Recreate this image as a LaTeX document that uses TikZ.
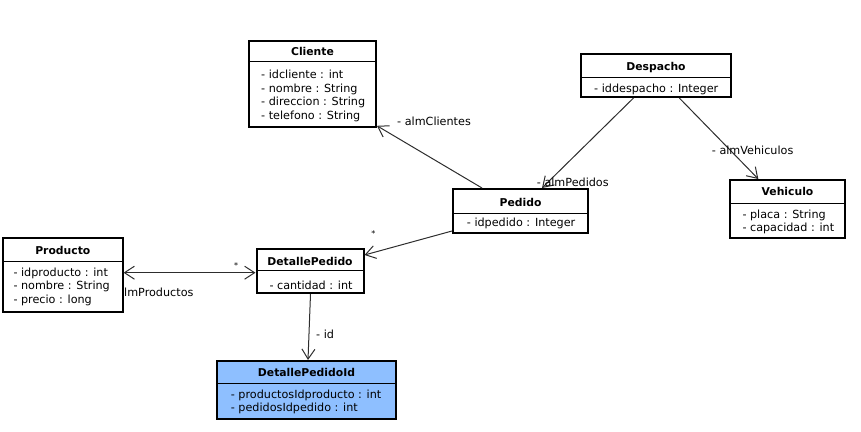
\documentclass[tikz,border=0pt]{standalone}
\usepackage{fontspec}
\setmainfont{DejaVu Sans}
\usetikzlibrary{arrows.meta,calc}
\definecolor{idblue}{RGB}{142,191,255}
\definecolor{edgecol}{RGB}{45,45,45}
\begin{document}
\begin{tikzpicture}[x=1pt,y=-1pt,
  cls/.style={draw=black, line width=2pt, rectangle, inner sep=0pt, fill=white},
  ttl/.style={font=\fontsize{10.8}{13}\selectfont\bfseries, inner sep=0pt, text height=7.9pt, text depth=0pt},
  attr/.style={font=\fontsize{11.2}{13.5}\selectfont, align=left, inner sep=0pt, anchor=west},
  lbl/.style={font=\fontsize{11.2}{13}\selectfont, inner sep=0pt, anchor=west},
  star/.style={font=\fontsize{8}{9}\selectfont, inner sep=0pt},
  divider/.style={draw=black, line width=1pt},
  assoc/.style={draw=edgecol, line width=1pt, -{Straight Barb[length=10pt,width=13pt]}},
  biassoc/.style={draw=edgecol, line width=1pt, {Straight Barb[length=10pt,width=13pt]}-{Straight Barb[length=10pt,width=13pt]}}]

\useasboundingbox (0,0) rectangle (861,431);

% ---------- classes ----------
\node[cls, minimum width=127pt, minimum height=86pt] (cliente) at (312.5,83.8) {};
\draw[divider] (cliente.west |- 0,61.5) -- (cliente.east |- 0,61.5);
\node[ttl] (clienteT) at (312.5,51.7) {Cliente};
\node[attr] (clienteA) at (261,95.9) {- idcliente : int\\- nombre : String\\- direccion : String\\- telefono : String};

\node[cls, minimum width=150pt, minimum height=43pt] (despacho) at (656,75.5) {};
\draw[divider] (despacho.west |- 0,77.3) -- (despacho.east |- 0,77.3);
\node[ttl] (despachoT) at (656,66.7) {Despacho};
\node[attr] (despachoA) at (594,89) {- iddespacho : Integer};

\node[cls, minimum width=115pt, minimum height=58pt] (vehiculo) at (787.5,209) {};
\draw[divider] (vehiculo.west |- 0,203.3) -- (vehiculo.east |- 0,203.3);
\node[ttl] (vehiculoT) at (787.5,191.7) {Vehiculo};
\node[attr] (vehiculoA) at (742.3,222) {- placa : String\\- capacidad : int};

\node[cls, minimum width=135pt, minimum height=44pt] (pedido) at (520.5,211) {};
\draw[divider] (pedido.west |- 0,213.3) -- (pedido.east |- 0,213.3);
\node[ttl] (pedidoT) at (520.5,202.3) {Pedido};
\node[attr] (pedidoA) at (466.7,223.3) {- idpedido : Integer};

\node[cls, minimum width=119.5pt, minimum height=74pt] (producto) at (62.8,275) {};
\draw[divider] (producto.west |- 0,261) -- (producto.east |- 0,261);
\node[ttl] (productoT) at (62.8,250.7) {Producto};
\node[attr] (productoA) at (13.3,286.7) {- idproducto : int\\- nombre : String\\- precio : long};

\node[cls, minimum width=107pt, minimum height=44pt] (detalle) at (310,271) {};
\draw[divider] (detalle.west |- 0,270.7) -- (detalle.east |- 0,270.7);
\node[ttl] (detalleT) at (310,261.7) {DetallePedido};
\node[attr] (detalleA) at (269.3,285) {- cantidad : int};

\node[cls, fill=idblue, minimum width=179pt, minimum height=58pt] (detid) at (306.5,390) {};
\draw[divider] (detid.west |- 0,383.3) -- (detid.east |- 0,383.3);
\node[ttl] (detidT) at (306.5,372.7) {DetallePedidoId};
\node[attr] (detidA) at (230.7,402) {- productosIdproducto : int\\- pedidosIdpedido : int};

% ---------- associations ----------
\draw[assoc] ($(pedido.north west)+(30,0)$) -- ($(cliente.south east)+(0,-2)$);
\node[lbl] (lClientes) at (397,121.7) {- almClientes};

\draw[assoc] ($(despacho.south)+(-22.5,0)$) -- ($(pedido.north west)+(90,0)$);
\node[lbl] (lPedidos) at (536.7,182.3) {- almPedidos};

\draw[assoc] ($(despacho.south)+(23.3,0)$) -- ($(vehiculo.north west)+(29.3,0)$);
\node[lbl] (lVehiculos) at (711.7,150) {- almVehiculos};

\draw[assoc] ($(pedido.south west)+(0,-3)$) -- ($(detalle.north east)+(0,7)$);
\node[star] (s1) at (373.3,233.7) {*};

\draw[biassoc] (producto.east |- 0,272.7) -- (detalle.west |- 0,272.7);
\node[star] (s2) at (236,266) {*};
\node[lbl] (lProductos) at (124,292.3) {lmProductos};

\draw[assoc] ($(detalle.south)+(0.5,0)$) -- ($(detid.north)+(1.5,0)$);
\node[lbl] (lId) at (316,334.3) {- id};
\end{tikzpicture}
\end{document}
